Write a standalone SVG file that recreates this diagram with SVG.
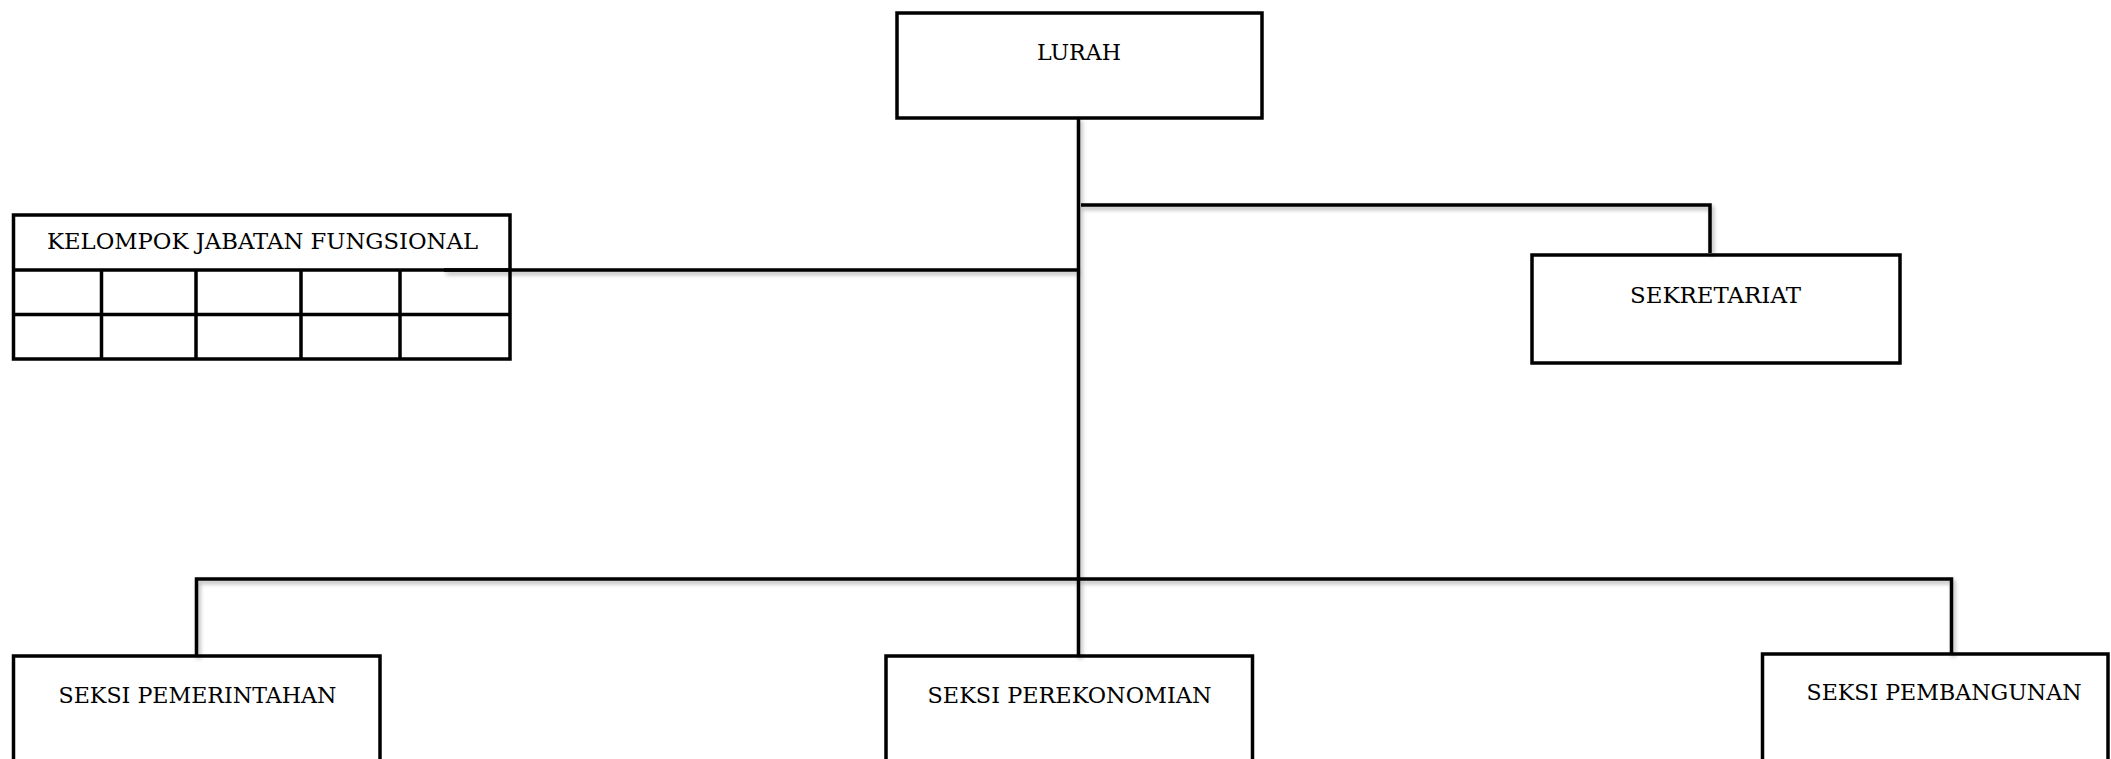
<svg xmlns="http://www.w3.org/2000/svg" width="2111" height="759" viewBox="0 0 2111 759">
  <defs>
    <filter id="shadow" x="-5%" y="-5%" width="110%" height="110%">
      <feDropShadow dx="2" dy="3" stdDeviation="2" flood-color="#000" flood-opacity="0.3"/>
    </filter>
    <style>
      .box { fill: #ffffff; stroke: #000000; stroke-width: 3.5; }
      .grid { fill: none; stroke: #000000; stroke-width: 3.5; }
      .lbl { font-family: "DejaVu Serif", "Liberation Serif", serif; font-size: 22px; fill: #000000; text-anchor: middle; }
      .conn { fill: none; stroke: #000000; stroke-width: 3.5; stroke-linejoin: miter; }
    </style>
  </defs>
  <rect x="0" y="0" width="2111" height="759" fill="#ffffff"/>

  <g id="node-lurah">
    <rect class="box" x="897" y="13" width="365" height="105"/>
    <text class="lbl" x="1079" y="60" textLength="84" lengthAdjust="spacingAndGlyphs">LURAH</text>
  </g>

  <g id="node-kelompok">
    <rect class="box" x="13.5" y="215" width="496.5" height="144"/>
    <path class="grid" d="M13.5 270 H510 M13.5 314.5 H510 M101.5 270 V359 M196 270 V359 M301 270 V359 M400 270 V359"/>
    <text class="lbl" x="262.5" y="249" textLength="431" lengthAdjust="spacingAndGlyphs">KELOMPOK JABATAN FUNGSIONAL</text>
  </g>

  <g id="node-sekretariat">
    <rect class="box" x="1532" y="255" width="368" height="108"/>
    <text class="lbl" x="1715.5" y="302.5" textLength="171" lengthAdjust="spacingAndGlyphs">SEKRETARIAT</text>
  </g>

  <g id="node-pemerintahan">
    <rect class="box" x="13.5" y="656" width="366.5" height="140"/>
    <text class="lbl" x="197.5" y="703" textLength="278" lengthAdjust="spacingAndGlyphs">SEKSI PEMERINTAHAN</text>
  </g>

  <g id="node-perekonomian">
    <rect class="box" x="886" y="656" width="366.5" height="140"/>
    <text class="lbl" x="1069.5" y="703" textLength="284" lengthAdjust="spacingAndGlyphs">SEKSI PEREKONOMIAN</text>
  </g>

  <g id="node-pembangunan">
    <rect class="box" x="1762.5" y="654" width="345.5" height="140"/>
    <text class="lbl" x="1944" y="700" textLength="275" lengthAdjust="spacingAndGlyphs">SEKSI PEMBANGUNAN</text>
  </g>

  <g id="connectors" filter="url(#shadow)">
    <path class="conn" d="M1078.5 118 V656"/>
    <path class="conn" d="M1081 205 H1710 V253"/>
    <path class="conn" d="M444 270 H1078.5"/>
    <path class="conn" d="M196.5 656 V579 H1951.5 V654"/>
  </g>
</svg>
